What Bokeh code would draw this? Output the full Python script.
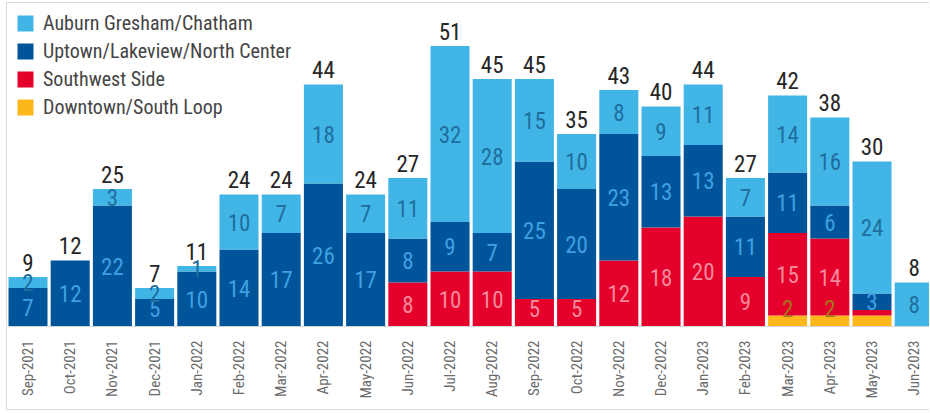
from math import pi
from bokeh.plotting import figure
from bokeh.models import ColumnDataSource, Range1d, FixedTicker, Legend, LegendItem
from bokeh.core.properties import value
from bokeh.embed import file_html
from bokeh.resources import INLINE

FONT = "'Roboto Condensed', 'DejaVu Sans Condensed', 'Liberation Sans Narrow', Roboto, sans-serif"

months = ["Sep-2021", "Oct-2021", "Nov-2021", "Dec-2021", "Jan-2022", "Feb-2022",
          "Mar-2022", "Apr-2022", "May-2022", "Jun-2022", "Jul-2022", "Aug-2022",
          "Sep-2022", "Oct-2022", "Nov-2022", "Dec-2022", "Jan-2023", "Feb-2023",
          "Mar-2023", "Apr-2023", "May-2023", "Jun-2023"]
downtown = [0, 0, 0, 0, 0, 0, 0, 0, 0, 0, 0, 0, 0, 0, 0, 0, 0, 0, 2, 2, 2, 0]
southwest = [0, 0, 0, 0, 0, 0, 0, 0, 0, 8, 10, 10, 5, 5, 12, 18, 20, 9, 15, 14, 1, 0]
uptown = [7, 12, 22, 5, 10, 14, 17, 26, 17, 8, 9, 7, 25, 20, 23, 13, 13, 11, 11, 6, 3, 0]
auburn = [2, 0, 3, 2, 1, 10, 7, 18, 7, 11, 32, 28, 15, 10, 8, 9, 11, 7, 14, 16, 24, 8]

series_keys = ["downtown", "southwest", "uptown", "auburn"]
series_names = {"auburn": "Auburn Gresham/Chatham",
                "uptown": "Uptown/Lakeview/North Center",
                "southwest": "Southwest Side",
                "downtown": "Downtown/South Loop"}
colors = {"downtown": "#FDB71A", "southwest": "#E4002B", "uptown": "#00559A", "auburn": "#41B6E6"}
label_colors = {"downtown": "#A8761A", "southwest": "#F58A9C", "uptown": "#3FA0E2", "auburn": "#1F6E9E"}
hidden_labels = {("May-2023", "downtown"), ("May-2023", "southwest")}

x = list(range(len(months)))
data = dict(x=x, downtown=downtown, southwest=southwest, uptown=uptown, auburn=auburn)
source = ColumnDataSource(data)

p = figure(width=923, height=408,
           x_range=Range1d(-0.486, 21.386), y_range=Range1d(0, 58.73),
           output_backend="svg", toolbar_location=None,
           y_axis_location=None,
           min_border_left=0, min_border_right=0, min_border_top=0, min_border_bottom=85,
           outline_line_color=None,
           styles={"margin-left": "6px", "margin-top": "2px",
                   "border-left": "1px solid #d9d9d9", "border-top": "1px solid #d9d9d9",
                   "border-bottom": "1px solid #d9d9d9"})

renderers = p.vbar_stack(series_keys, x="x", width=0.925, source=source,
                         color=[colors[k] for k in series_keys], line_color=None)
rmap = dict(zip(series_keys, renderers))

# segment labels
vals = {"downtown": downtown, "southwest": southwest, "uptown": uptown, "auburn": auburn}
lx, ly, lt, lc = [], [], [], []
for i, m in enumerate(months):
    base = 0
    for k in series_keys:
        v = vals[k][i]
        if v > 0 and (m, k) not in hidden_labels:
            mid = base + v / 2
            lx.append(i)
            ly.append(max(mid, 3.2))
            lt.append(str(v))
            lc.append(label_colors[k])
        base += v
seg_src = ColumnDataSource(dict(x=lx, y=ly, t=lt, c=lc))
p.text(x="x", y="y", text="t", source=seg_src, text_color="c",
       text_align="center", text_baseline="middle",
       text_font=value(FONT), text_font_size="23px")

totals = [a + b + c + d for a, b, c, d in zip(downtown, southwest, uptown, auburn)]
tot_src = ColumnDataSource(dict(x=x, y=totals, t=[str(t) for t in totals]))
p.text(x="x", y="y", text="t", source=tot_src, text_color="#262626",
       text_align="center", text_baseline="alphabetic", y_offset=-15,
       text_font=value(FONT), text_font_size="23px")

legend = Legend(items=[LegendItem(label=series_names[k], renderers=[rmap[k]])
                       for k in ["auburn", "uptown", "southwest", "downtown"]],
                location="top_left", margin=8, padding=0, spacing=4,
                glyph_width=20, glyph_height=20, label_height=20, label_standoff=8,
                label_text_font=FONT, label_text_font_size="20px",
                label_text_color="#454545",
                border_line_color=None, background_fill_alpha=0)
p.add_layout(legend)

p.xaxis.ticker = FixedTicker(ticks=x)
p.xaxis.major_label_overrides = {i: m for i, m in enumerate(months)}
p.xaxis.major_label_orientation = pi / 2
p.xaxis.major_tick_line_color = None
p.xaxis.minor_tick_line_color = None
p.xaxis.axis_line_color = "#d4d4d4"
p.xaxis.major_label_text_font = FONT
p.xaxis.major_label_text_font_size = "15px"
p.xaxis.major_label_text_color = "#6b6b6b"
p.xaxis.major_label_standoff = 8
p.xgrid.grid_line_color = None
p.ygrid.grid_line_color = None

open("out.html", "w").write(file_html(p, INLINE))
